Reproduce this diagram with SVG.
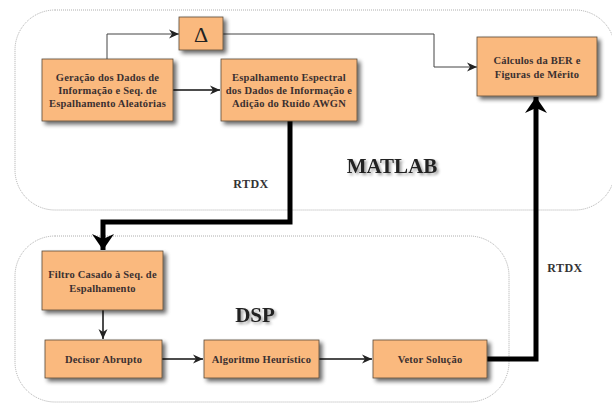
<svg xmlns="http://www.w3.org/2000/svg" width="612" height="403" viewBox="0 0 612 403">
<defs>
<style>
.box{fill:#FAB97E;stroke:#5a4a3a;stroke-width:0.8;filter:url(#sh)}
.t{font-family:"Liberation Serif","Times New Roman",serif;font-weight:bold;font-size:10.5px;letter-spacing:0.2px;fill:#3a3030;text-anchor:middle}
.lbl{font-family:"Liberation Serif","Times New Roman",serif;font-weight:bold;font-size:12px;letter-spacing:0.5px;fill:#333;text-anchor:middle}
.big{font-family:"Liberation Serif","Times New Roman",serif;font-weight:bold;font-size:21px;fill:#222;text-anchor:middle;filter:url(#tsh)}
.cont{fill:none;stroke:#999;stroke-width:0.8;stroke-dasharray:1 1}
.thin{fill:none;stroke:#444;stroke-width:1}
.thin2{fill:none;stroke:#111;stroke-width:1.5}
.thick{fill:none;stroke:#000;stroke-width:5}
</style>
<filter id="sh" x="-20%" y="-20%" width="150%" height="160%">
<feGaussianBlur in="SourceAlpha" stdDeviation="2"/>
<feOffset dx="3" dy="3" result="b"/>
<feComponentTransfer><feFuncA type="linear" slope="0.6"/></feComponentTransfer>
<feMerge><feMergeNode/><feMergeNode in="SourceGraphic"/></feMerge>
</filter>
<filter id="tsh" x="-20%" y="-30%" width="150%" height="170%">
<feGaussianBlur in="SourceAlpha" stdDeviation="1.5"/>
<feOffset dx="2" dy="2"/>
<feComponentTransfer><feFuncA type="linear" slope="0.4"/></feComponentTransfer>
<feMerge><feMergeNode/><feMergeNode in="SourceGraphic"/></feMerge>
</filter>
<marker id="ah" markerUnits="userSpaceOnUse" markerWidth="12" markerHeight="10" refX="10" refY="5" orient="auto" viewBox="0 0 12 10">
<path d="M0,0.5 L10,5 L0,9.5 L3,5 z" fill="#222"/>
</marker>
<marker id="ahT" markerUnits="userSpaceOnUse" markerWidth="22" markerHeight="22" refX="16" refY="11" orient="auto" viewBox="0 0 22 22">
<path d="M0,0 L16,11 L0,22 L5,11 z" fill="#000"/>
</marker>
</defs>
<rect width="612" height="403" fill="#fff"/>
<g id="container-matlab"><rect class="cont" x="15" y="10" width="600" height="200" rx="40" ry="40"/></g>
<g id="container-dsp"><rect class="cont" x="15" y="236" width="494" height="166" rx="40" ry="40"/></g>
<g id="connectors">
<polyline class="thin" points="107,59 107,34 179,34" marker-end="url(#ah)"/>
<polyline class="thin" points="223,34 434,34 434,67 477,67" marker-end="url(#ah)"/>
<line class="thin2" x1="173" y1="90" x2="220" y2="90" marker-end="url(#ah)"/>
<polyline class="thick" points="290,121 290,222 103,222 103,250" marker-end="url(#ahT)"/>
<line class="thin2" x1="103" y1="310" x2="103" y2="339" marker-end="url(#ah)"/>
<line class="thin2" x1="162" y1="359" x2="203" y2="359" marker-end="url(#ah)"/>
<line class="thin2" x1="319" y1="359" x2="372" y2="359" marker-end="url(#ah)"/>
<polyline class="thick" points="487,359 536,359 536,97" marker-end="url(#ahT)"/>
</g>
<g id="node-geracao"><rect class="box" x="42" y="59" width="131" height="62"/>
<text class="t" x="107.5" y="81">Geração dos Dados de</text>
<text class="t" x="107.5" y="94">Informação e Seq. de</text>
<text class="t" x="107.5" y="107">Espalhamento Aleatórias</text></g>
<g id="node-delta"><rect class="box" x="179" y="17" width="44" height="33"/>
<text x="201" y="42" font-family="Liberation Serif,serif" font-size="22" fill="#222" text-anchor="middle">Δ</text></g>
<g id="node-espalhamento"><rect class="box" x="221" y="59" width="136" height="62"/>
<text class="t" x="289" y="81">Espalhamento Espectral</text>
<text class="t" x="289" y="94">dos Dados de Informação e</text>
<text class="t" x="289" y="107">Adição do Ruído AWGN</text></g>
<g id="node-calculos"><rect class="box" x="477" y="37" width="120" height="59"/>
<text class="t" x="537" y="64">Cálculos da BER e</text>
<text class="t" x="537" y="78">Figuras de Mérito</text></g>
<g id="node-filtro"><rect class="box" x="42" y="251" width="121" height="59"/>
<text class="t" x="102.5" y="278">Filtro Casado à Seq. de</text>
<text class="t" x="102.5" y="292">Espalhamento</text></g>
<g id="node-decisor"><rect class="box" x="45" y="340" width="117" height="38"/>
<text class="t" x="103.5" y="363">Decisor Abrupto</text></g>
<g id="node-algoritmo"><rect class="box" x="204" y="340" width="115" height="38"/>
<text class="t" x="261.5" y="363">Algoritmo Heurístico</text></g>
<g id="node-vetor"><rect class="box" x="373" y="340" width="114" height="38"/>
<text class="t" x="430" y="363">Vetor Solução</text></g>
<g id="labels">
<text class="lbl" x="251" y="188">RTDX</text>
<text class="lbl" x="565" y="272">RTDX</text>
<text class="big" x="392" y="173">MATLAB</text>
<text class="big" x="255" y="322">DSP</text>
</g>
</svg>
